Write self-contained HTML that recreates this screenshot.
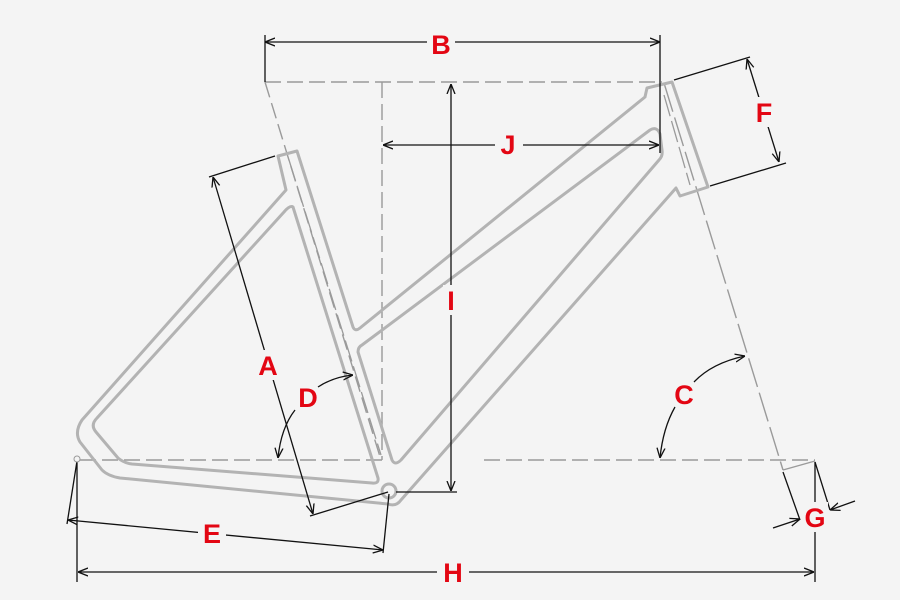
<!DOCTYPE html>
<html><head><meta charset="utf-8"><style>
html,body{margin:0;padding:0;background:#f4f4f4;}
svg{display:block;}
text{font-family:"Liberation Sans",Arial,sans-serif;font-weight:bold;fill:#e30613;font-size:27px;text-anchor:middle;}
</style></head><body>
<svg width="900" height="600" viewBox="0 0 900 600" xmlns="http://www.w3.org/2000/svg">
<defs>
<marker id="ah" viewBox="0 0 10 10" refX="10" refY="5" markerWidth="10" markerHeight="10" markerUnits="userSpaceOnUse" orient="auto-start-reverse">
<path d="M0,1 L10,5 L0,9" fill="none" stroke="#111" stroke-width="1.3"/>
</marker>
</defs>
<rect width="900" height="600" fill="#f4f4f4"/>

<!-- dashed reference lines -->
<g stroke="#9a9a9a" stroke-width="1.4" fill="none" stroke-dasharray="16,6">
<line x1="265" y1="82" x2="662" y2="82"/>
<line x1="382" y1="82" x2="382" y2="460"/>
<line x1="80" y1="460" x2="382" y2="460"/>
<line x1="484" y1="460" x2="815" y2="460"/>
<line x1="265" y1="82" x2="381" y2="460"/>
<line x1="664" y1="83" x2="783" y2="470" stroke-dasharray="30,6"/>
<line x1="783" y1="470" x2="815" y2="461" stroke-dasharray="none"/>
</g>

<!-- frame -->
<g stroke="#b3b3b3" stroke-width="3" fill="none" stroke-linejoin="round">
<!-- rear triangle outer + seat tube left -->
<path d="M278,156 L297,151 L353,327 Q355,332 360,328 L645,97 L647,88 L672,82 L708,187 L680,196 L676,188 L401,500 Q396,507 388,504 L120,478 Q108,476 102,470 L80,442 Q74,432 82,420 L286,190 Z"/>
<!-- rear triangle inner -->
<path d="M293,207 L378,478 Q379,484 372,483 L132,464 Q124,463 118,458 L96,432 Q90,425 97,418 L284,212 Q290,205 293,207 Z"/>
<!-- front triangle inner -->
<path d="M358,352 Q358,347 362,345 L650,130 Q657,126 660,134 L662,150 Q663,156 659,160 L401,460 Q395,466 392,460 Z"/>
<circle cx="389" cy="491" r="7"/>
</g>
<!-- centerlines inside tubes -->
<g stroke="#9a9a9a" stroke-width="1.3" fill="none" stroke-dasharray="22,5">
<line x1="289" y1="160" x2="381" y2="455"/>
<line x1="664" y1="95" x2="690" y2="185"/>
</g>

<!-- dimensions -->
<g stroke="#111" stroke-width="1.3" fill="none">
<!-- B -->
<line x1="265" y1="35" x2="265" y2="82"/>
<line x1="660" y1="35" x2="660" y2="153"/>
<line x1="265" y1="42" x2="660" y2="42" marker-start="url(#ah)" marker-end="url(#ah)"/>
<!-- J -->
<line x1="383" y1="145" x2="659" y2="145" marker-start="url(#ah)" marker-end="url(#ah)"/>
<!-- I -->
<line x1="451" y1="84" x2="451" y2="491" marker-start="url(#ah)" marker-end="url(#ah)"/>
<line x1="396" y1="492" x2="457" y2="492"/>
<!-- A -->
<line x1="209" y1="177" x2="275" y2="156"/>
<line x1="310" y1="516" x2="388" y2="492"/>
<line x1="213" y1="177" x2="313" y2="514" marker-start="url(#ah)" marker-end="url(#ah)"/>
<!-- F -->
<line x1="674" y1="80" x2="750" y2="57"/>
<line x1="710" y1="186" x2="786" y2="163"/>
<line x1="747" y1="59" x2="779" y2="162" marker-start="url(#ah)" marker-end="url(#ah)"/>
<!-- E -->
<line x1="77" y1="461" x2="67" y2="524"/>
<line x1="389" y1="494" x2="383" y2="553"/>
<line x1="68" y1="520" x2="383" y2="550" marker-start="url(#ah)" marker-end="url(#ah)"/>
<!-- H -->
<line x1="77" y1="462" x2="77" y2="582"/>
<line x1="815" y1="462" x2="815" y2="582"/>
<line x1="78" y1="572" x2="814" y2="572" marker-start="url(#ah)" marker-end="url(#ah)"/>
<!-- G -->
<line x1="783" y1="472" x2="800" y2="520"/>
<line x1="815" y1="462" x2="830" y2="510"/>
<line x1="773" y1="528" x2="800" y2="519" marker-end="url(#ah)"/>
<line x1="855" y1="501" x2="830" y2="510" marker-end="url(#ah)"/>
<!-- D -->
<path d="M318,387 Q333,377 353,375" marker-end="url(#ah)"/>
<path d="M295,410 Q281,428 278,458" marker-end="url(#ah)"/>
<!-- C -->
<path d="M694,382 Q712,363 745,356" marker-end="url(#ah)"/>
<path d="M675,407 Q663,428 660,458" marker-end="url(#ah)"/>
</g>
<circle cx="77" cy="459" r="3" fill="#f4f4f4" stroke="#999" stroke-width="1"/>

<!-- label backgrounds -->
<g fill="#f4f4f4">
<rect x="427" y="30" width="28" height="26"/>
<rect x="495" y="130" width="28" height="30"/>
<rect x="443" y="285" width="16" height="30"/>
<rect x="749" y="97" width="30" height="30"/>
<rect x="254" y="350" width="28" height="30"/>
<rect x="198" y="518" width="28" height="30"/>
<rect x="437" y="558" width="32" height="28"/>
<rect x="802" y="502" width="26" height="30"/>
</g>
<text x="441" y="54">B</text>
<text x="508" y="154">J</text>
<text x="451" y="310">I</text>
<text x="764" y="122">F</text>
<text x="268" y="375">A</text>
<text x="308" y="407">D</text>
<text x="684" y="404">C</text>
<text x="212" y="543">E</text>
<text x="453" y="582">H</text>
<text x="815" y="527">G</text>
</svg>
</body></html>
